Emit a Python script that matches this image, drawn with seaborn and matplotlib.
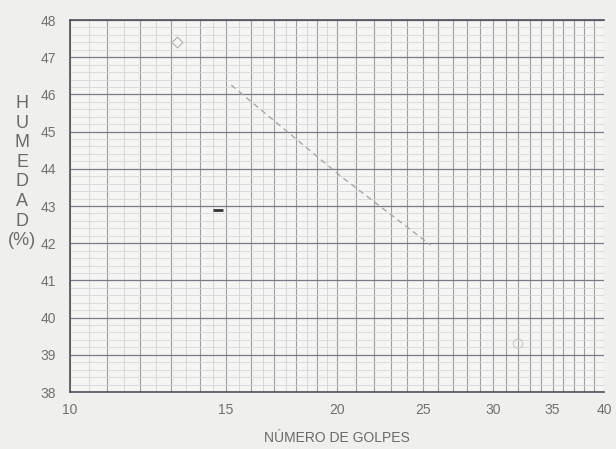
import numpy as np
import pandas as pd
import matplotlib
matplotlib.use("Agg")
import matplotlib.pyplot as plt
import matplotlib.ticker as mticker
import seaborn as sns

# ---- data ----
golpes_linea = [15.2, 20.2, 25.5]
humedad_linea = [46.25, 43.8, 41.95]

golpes_rombo = [13.2]
humedad_rombo = [47.4]

golpes_marca = [14.7]
humedad_marca = [42.9]

golpes_circulo = [32.0]
humedad_circulo = [39.3]

x_ticks = [10, 15, 20, 25, 30, 35, 40]
y_ticks = [38, 39, 40, 41, 42, 43, 44, 45, 46, 47, 48]

sns.set_theme(style="white")
plt.rcParams['font.family'] = ['Liberation Sans', 'DejaVu Sans']

fig = plt.figure(figsize=(6.16, 4.49), dpi=100, facecolor="#efefed")
ax = fig.add_axes([70/616, 57/449, 534/616, 372/449])
ax.set_facecolor("#f5f5f3")
ax.set_xscale("log")
ax.set_xlim(10, 40)
ax.set_ylim(38, 48)

# graph-paper grid
for v in np.arange(10.5, 20, 1.0):
    ax.axvline(v, color="#d2d2d6", lw=0.6, zorder=0)
for v in np.arange(10, 41, 1.0):
    ax.axvline(v, color="#9c9ca4", lw=0.8, zorder=0)
for h in np.arange(38, 48.01, 0.2):
    ax.axhline(h, color="#d6d6da", lw=0.6, zorder=0)
for h in np.arange(38, 49, 1.0):
    ax.axhline(h, color="#7a7a84", lw=0.9, zorder=0)

df_l = pd.DataFrame({"golpes": golpes_linea, "humedad": humedad_linea})
sns.lineplot(data=df_l, x="golpes", y="humedad", ax=ax, color="#a8a8a8",
             lw=1.0, linestyle=(0, (4, 3)), zorder=3)

sns.scatterplot(x=golpes_rombo, y=humedad_rombo, ax=ax, marker="D", s=30,
                facecolor="#f5f5f3", edgecolor="#b0b0b0", linewidth=0.8, zorder=4)
sns.scatterplot(x=golpes_marca, y=humedad_marca, ax=ax, marker="_", s=50,
                color="#333333", linewidth=2.0, zorder=4)
sns.scatterplot(x=golpes_circulo, y=humedad_circulo, ax=ax, marker="o", s=45,
                facecolor="none", edgecolor="#c8c8c8", linewidth=0.8, zorder=4)

ax.xaxis.set_major_locator(mticker.FixedLocator(x_ticks))
ax.xaxis.set_major_formatter(mticker.FixedFormatter([str(t) for t in x_ticks]))
ax.xaxis.set_minor_locator(mticker.NullLocator())
ax.yaxis.set_major_locator(mticker.FixedLocator(y_ticks))
ax.tick_params(axis="both", length=0, labelsize=10, labelcolor="#707070")
ax.tick_params(axis="x", pad=8)
ax.tick_params(axis="y", pad=10)

for s in ["left", "bottom", "top"]:
    ax.spines[s].set_color("#50505a")
    ax.spines[s].set_linewidth(1.2)
ax.spines["right"].set_visible(False)

ax.set_xlabel("NÚMERO DE GOLPES", fontsize=10, color="#6a6a6a", labelpad=10)
ax.set_ylabel("")
fig.text(22/616, 1 - 172/449, "H\nU\nM\nE\nD\nA\nD\n(%)", fontsize=13,
         color="#6a6a6a", ha="center", va="center", linespacing=1.2,
         multialignment="center")

fig.savefig("out.png", dpi=100, facecolor=fig.get_facecolor())
